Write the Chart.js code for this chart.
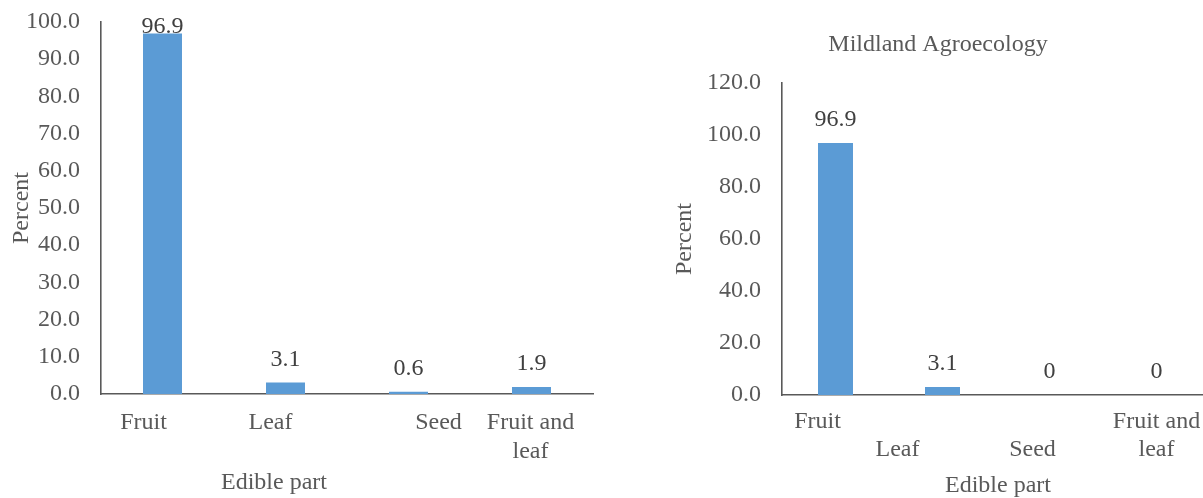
<!DOCTYPE html>
<html>
<head>
<meta charset="utf-8">
<script src="https://cdn.jsdelivr.net/npm/chart.js@4/dist/chart.umd.min.js"></script>
<style>
  html, body { margin: 0; padding: 0; background: #fff; overflow: hidden; width: 1203px; height: 498px; }
  .panel { position: absolute; top: 0; height: 498px; }
</style>
</head>
<body>
<div class="panel" style="left:0;width:600px"><canvas id="overall" width="600" height="498"></canvas></div>
<div class="panel" style="left:666px;width:544px"><canvas id="mildland" width="544" height="498"></canvas></div>
<script>
// Edible part categories (multi-line labels)
const categories = [['Fruit'], ['Leaf'], ['Seed'], ['Fruit and', 'leaf']];

// Percent of species by edible part
const overallPercent = [96.9, 3.1, 0.6, 1.9];
const mildlandPercent = [96.9, 3.1, 0, 0];

// Y-axis tick values
const overallTicks = [0, 10, 20, 30, 40, 50, 60, 70, 80, 90, 100];
const mildlandTicks = [0, 20, 40, 60, 80, 100, 120];

const FONT = '"Liberation Serif", "Times New Roman", serif';
const GREY = '#595959';
const BAR = '#5B9BD5';

// Value labels above each bar, kept inside the top of the plot
const valueLabels = {
  id: 'valueLabels',
  afterDatasetsDraw(chart) {
    const ctx = chart.ctx;
    const area = chart.chartArea;
    const meta = chart.getDatasetMeta(0);
    const values = chart.data.datasets[0].data;
    ctx.save();
    ctx.font = '24px ' + FONT;
    ctx.fillStyle = '#404040';
    ctx.textAlign = 'center';
    ctx.textBaseline = 'middle';
    meta.data.forEach((bar, i) => {
      const y = Math.max(bar.y - 23, area.top + 5);
      ctx.fillText(String(values[i]), bar.x, y);
    });
    ctx.restore();
  }
};

// Category labels under the axis plus the axis title
const categoryText = {
  id: 'categoryText',
  afterDraw(chart, args, opts) {
    const ctx = chart.ctx;
    const area = chart.chartArea;
    const xs = chart.scales.x;
    ctx.save();
    ctx.font = '24px ' + FONT;
    ctx.fillStyle = GREY;
    ctx.textAlign = 'center';
    ctx.textBaseline = 'middle';
    chart.data.labels.forEach((lines, i) => {
      const x = xs.getPixelForValue(i) + opts.shift[i];
      lines.forEach((line, j) => {
        const y = area.bottom + opts.top + (opts.row[i] + j) * opts.lineGap;
        ctx.fillText(line, x, y);
      });
    });
    ctx.fillText(opts.title, (area.left + area.right) / 2 + opts.titleDx, area.bottom + opts.titleDy);
    ctx.restore();
  }
};

function makeChart(id, values, ticks, cfg) {
  return new Chart(document.getElementById(id), {
    type: 'bar',
    data: {
      labels: categories,
      datasets: [{
        data: values,
        backgroundColor: BAR,
        borderWidth: 0,
        categoryPercentage: 1,
        barPercentage: cfg.barPct
      }]
    },
    plugins: [valueLabels, categoryText],
    options: {
      responsive: false,
      animation: false,
      events: [],
      layout: { padding: { top: cfg.padTop, right: cfg.padRight, bottom: 0, left: 0 } },
      plugins: {
        legend: { display: false },
        tooltip: { enabled: false },
        title: cfg.title ? {
          display: true,
          text: cfg.title,
          color: GREY,
          font: { family: FONT, size: 24, weight: 'normal', lineHeight: 1.2 },
          padding: { top: 30.6, bottom: 23.6 }
        } : { display: false },
        categoryText: cfg.xText
      },
      scales: {
        x: {
          grid: { display: false, drawTicks: false },
          ticks: { display: false },
          border: { display: true, color: GREY, width: 1.6 },
          afterFit(scale) {
            scale.height = cfg.xHeight;
            scale.paddingLeft = 0;
            scale.paddingRight = 0;
          }
        },
        y: {
          min: 0,
          max: ticks[ticks.length - 1],
          grid: { display: false, drawTicks: false },
          border: { display: true, color: GREY, width: 1.6 },
          afterBuildTicks(scale) { scale.ticks = ticks.map(v => ({ value: v })); },
          ticks: {
            autoSkip: false,
            padding: 21,
            color: GREY,
            font: { family: FONT, size: 24 },
            callback: v => Number(v).toFixed(1)
          },
          title: {
            display: true,
            text: 'Percent',
            color: GREY,
            font: { family: FONT, size: 24, lineHeight: 1.2 },
            padding: { top: cfg.yTitlePad, bottom: 0 }
          },
          afterFit(scale) {
            scale.width = cfg.yWidth;
            scale.paddingTop = 0;
            scale.paddingBottom = 0;
          }
        }
      }
    }
  });
}

makeChart('overall', overallPercent, overallTicks, {
  barPct: 0.317,
  padTop: 22,
  padRight: 7,
  xHeight: 104,
  yWidth: 101,
  yTitlePad: 7.6,
  title: null,
  xText: { shift: [-19, -15, 30, -1], row: [0, 0, 0, 0], top: 29, lineGap: 29,
           title: 'Edible part', titleDx: -73, titleDy: 89 }
});

makeChart('mildland', mildlandPercent, mildlandTicks, {
  barPct: 0.327,
  padTop: 0,
  padRight: 0,
  xHeight: 103,
  yWidth: 116,
  yTitlePad: 4.6,
  title: 'Mildland Agroecology',
  xText: { shift: [-18, -45, -17, 0], row: [0, 1, 1, 0], top: 27, lineGap: 28,
           title: 'Edible part', titleDx: 2, titleDy: 91 }
});
</script>
</body>
</html>
